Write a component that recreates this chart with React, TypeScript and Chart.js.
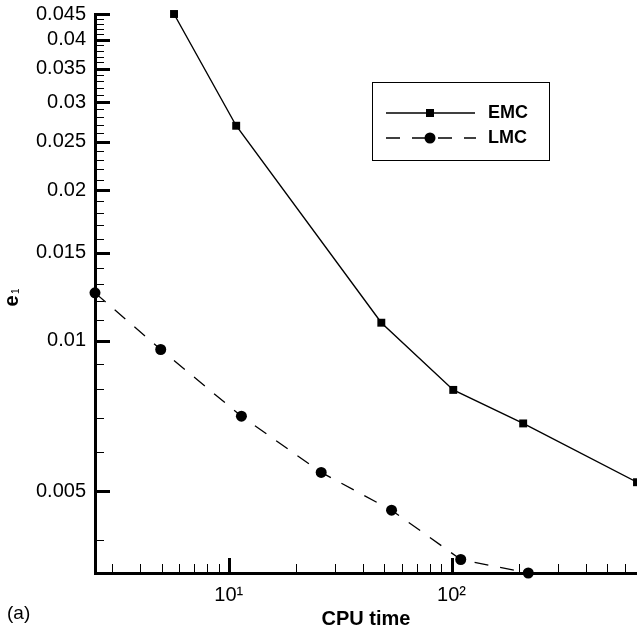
import React, { useEffect, useRef } from 'react';
import { Chart, registerables } from 'chart.js';

Chart.register(...registerables);

// ---- data ----
const emcCpu = [5.68, 10.8, 48.4, 101.8, 209.7, 680];
const emcErr = [0.045, 0.0269, 0.01086, 0.00797, 0.00683, 0.00521];
const lmcCpu = [2.51, 4.95, 11.4, 26.0, 53.8, 110, 221];
const lmcErr = [0.01246, 0.0096, 0.00706, 0.00545, 0.00458, 0.00365, 0.00343];

const seriesNames = ['EMC', 'LMC'];

// ---- axes ----
const xMin = 2.51;
const xMax = 680;
const yMin = 0.00343;
const yMax = 0.045;

const xMajorTicks = [10, 100];
const xMajorLabels = ['10\u00B9', '10\u00B2'];
const xMinorTicks = [3, 4, 5, 6, 7, 8, 9, 20, 30, 40, 50, 60, 70, 80, 90, 200, 300, 400, 500, 600];

const yMajorTicks = [0.005, 0.01, 0.015, 0.02, 0.025, 0.03, 0.035, 0.04, 0.045];
const yMajorLabels = ['0.005', '0.01', '0.015', '0.02', '0.025', '0.03', '0.035', '0.04', '0.045'];
const yMinorTicks = [
  0.004, 0.006, 0.007, 0.008, 0.009, 0.011, 0.012, 0.013, 0.014, 0.016, 0.017, 0.018, 0.019,
  0.021, 0.022, 0.023, 0.024, 0.026, 0.027, 0.028, 0.029, 0.031, 0.032, 0.033, 0.034,
  0.036, 0.037, 0.038, 0.039, 0.041, 0.042, 0.043, 0.044,
];

const xTitle = 'CPU time';
const yTitleMain = 'e';
const yTitleSub = '1';
const panelLabel = '(a)';

const FONT = '"Liberation Sans", Arial, Helvetica, sans-serif';

const zeroPadding = (s: any) => {
  s.paddingTop = 0;
  s.paddingBottom = 0;
  s.paddingLeft = 0;
  s.paddingRight = 0;
};

const decorPlugin = {
  id: 'decor',
  beforeDatasetsDraw(chart: any) {
    const { ctx, chartArea, scales } = chart;
    const xs = scales.x;
    const ys = scales.y;
    ctx.save();
    ctx.strokeStyle = '#000';
    ctx.lineCap = 'butt';
    const yTick = (vals: number[], len: number, w: number) => {
      ctx.lineWidth = w;
      ctx.beginPath();
      vals.forEach((v) => {
        const py = Math.round(ys.getPixelForValue(v)) + (w % 2 ? 0.5 : 0);
        ctx.moveTo(chartArea.left, py);
        ctx.lineTo(chartArea.left + len, py);
      });
      ctx.stroke();
    };
    const xTick = (vals: number[], len: number, w: number) => {
      ctx.lineWidth = w;
      ctx.beginPath();
      vals.forEach((v) => {
        const px = Math.round(xs.getPixelForValue(v)) + (w % 2 ? 0.5 : 0);
        ctx.moveTo(px, chartArea.bottom);
        ctx.lineTo(px, chartArea.bottom - len);
      });
      ctx.stroke();
    };
    yTick(yMajorTicks, 15, 3);
    yTick(yMinorTicks, 9, 1);
    xTick(xMajorTicks, 15, 3);
    xTick(xMinorTicks, 9, 1);
    ctx.restore();
  },
  afterDraw(chart: any) {
    const { ctx, chartArea } = chart;
    ctx.save();
    ctx.fillStyle = '#000';
    ctx.strokeStyle = '#000';

    // x title
    ctx.font = `bold 20px ${FONT}`;
    ctx.textAlign = 'center';
    ctx.textBaseline = 'middle';
    ctx.fillText(xTitle, (chartArea.left + chartArea.right) / 2, 619);

    // panel label
    ctx.font = `19px ${FONT}`;
    ctx.textAlign = 'left';
    ctx.fillText(panelLabel, 7, 614);

    // y title (rotated)
    ctx.save();
    ctx.translate(18, 296);
    ctx.rotate(-Math.PI / 2);
    ctx.textBaseline = 'alphabetic';
    ctx.textAlign = 'left';
    ctx.font = `bold 20px ${FONT}`;
    ctx.fillText(yTitleMain, -10.5, 0);
    ctx.font = `10px ${FONT}`;
    ctx.fillText(yTitleSub, 2, 1);
    ctx.restore();

    // legend box
    ctx.lineWidth = 1;
    ctx.strokeRect(372.5, 82.5, 177, 78);
    const rows = [113, 138];
    ctx.lineWidth = 1.3;
    ctx.beginPath();
    ctx.moveTo(386, rows[0]);
    ctx.lineTo(475, rows[0]);
    ctx.stroke();
    ctx.fillRect(430 - 4, rows[0] - 4, 8, 8);
    ctx.setLineDash([14, 12]);
    ctx.beginPath();
    ctx.moveTo(386, rows[1]);
    ctx.lineTo(476, rows[1]);
    ctx.stroke();
    ctx.setLineDash([]);
    ctx.beginPath();
    ctx.arc(430, rows[1], 5.5, 0, Math.PI * 2);
    ctx.fill();
    ctx.font = `bold 18px ${FONT}`;
    ctx.textAlign = 'left';
    ctx.textBaseline = 'middle';
    ctx.fillText(seriesNames[0], 488, rows[0]);
    ctx.fillText(seriesNames[1], 488, rows[1]);
    ctx.restore();
  },
};

export default function App() {
  const canvasRef = useRef<HTMLCanvasElement | null>(null);

  useEffect(() => {
    const canvas = canvasRef.current;
    if (!canvas) return;
    const chart = new Chart(canvas, {
      type: 'line',
      data: {
        datasets: [
          {
            label: seriesNames[0],
            data: emcCpu.map((x, i) => ({ x, y: emcErr[i] })),
            borderColor: '#000',
            backgroundColor: '#000',
            borderWidth: 1.4,
            pointStyle: 'rect',
            pointRadius: 5.6,
            pointBorderWidth: 0,
            pointBackgroundColor: '#000',
            tension: 0,
            clip: false,
          },
          {
            label: seriesNames[1],
            data: lmcCpu.map((x, i) => ({ x, y: lmcErr[i] })),
            borderColor: '#000',
            backgroundColor: '#000',
            borderWidth: 1.3,
            borderDash: [14, 12],
            pointStyle: 'circle',
            pointRadius: 5.5,
            pointBorderWidth: 0,
            pointBackgroundColor: '#000',
            tension: 0,
            clip: false,
          },
        ],
      },
      options: {
        animation: false,
        responsive: false,
        devicePixelRatio: 1,
        layout: { autoPadding: false, padding: { top: 14, right: 0, left: 0, bottom: 0 } },
        plugins: {
          legend: { display: false },
          tooltip: { enabled: false },
        },
        scales: {
          x: {
            type: 'logarithmic',
            position: 'bottom',
            min: xMin,
            max: xMax,
            afterBuildTicks: (s: any) => {
              s.ticks = xMajorTicks.map((v) => ({ value: v }));
            },
            afterFit: (s: any) => {
              s.height = 62;
              zeroPadding(s);
            },
            grid: { display: false, drawTicks: false },
            border: { display: true, color: '#000', width: 3 },
            ticks: {
              autoSkip: false,
              maxRotation: 0,
              padding: 10,
              color: '#000',
              font: { family: FONT, size: 20 },
              callback: (_v: any, i: number) => xMajorLabels[i],
            },
          },
          y: {
            type: 'logarithmic',
            position: 'left',
            min: yMin,
            max: yMax,
            afterBuildTicks: (s: any) => {
              s.ticks = yMajorTicks.map((v) => ({ value: v }));
            },
            afterFit: (s: any) => {
              s.width = 95;
              zeroPadding(s);
            },
            grid: { display: false, drawTicks: false },
            border: { display: true, color: '#000', width: 3 },
            ticks: {
              autoSkip: false,
              padding: 9,
              color: '#000',
              font: { family: FONT, size: 20 },
              callback: (_v: any, i: number) => yMajorLabels[i],
            },
          },
        },
      },
      plugins: [decorPlugin],
    } as any);
    return () => chart.destroy();
  }, []);

  return (
    <div style={{ position: 'fixed', left: 0, top: 0, width: 637, height: 635, background: '#fff' }}>
      <canvas ref={canvasRef} width={637} height={635} style={{ display: 'block' }} />
    </div>
  );
}
